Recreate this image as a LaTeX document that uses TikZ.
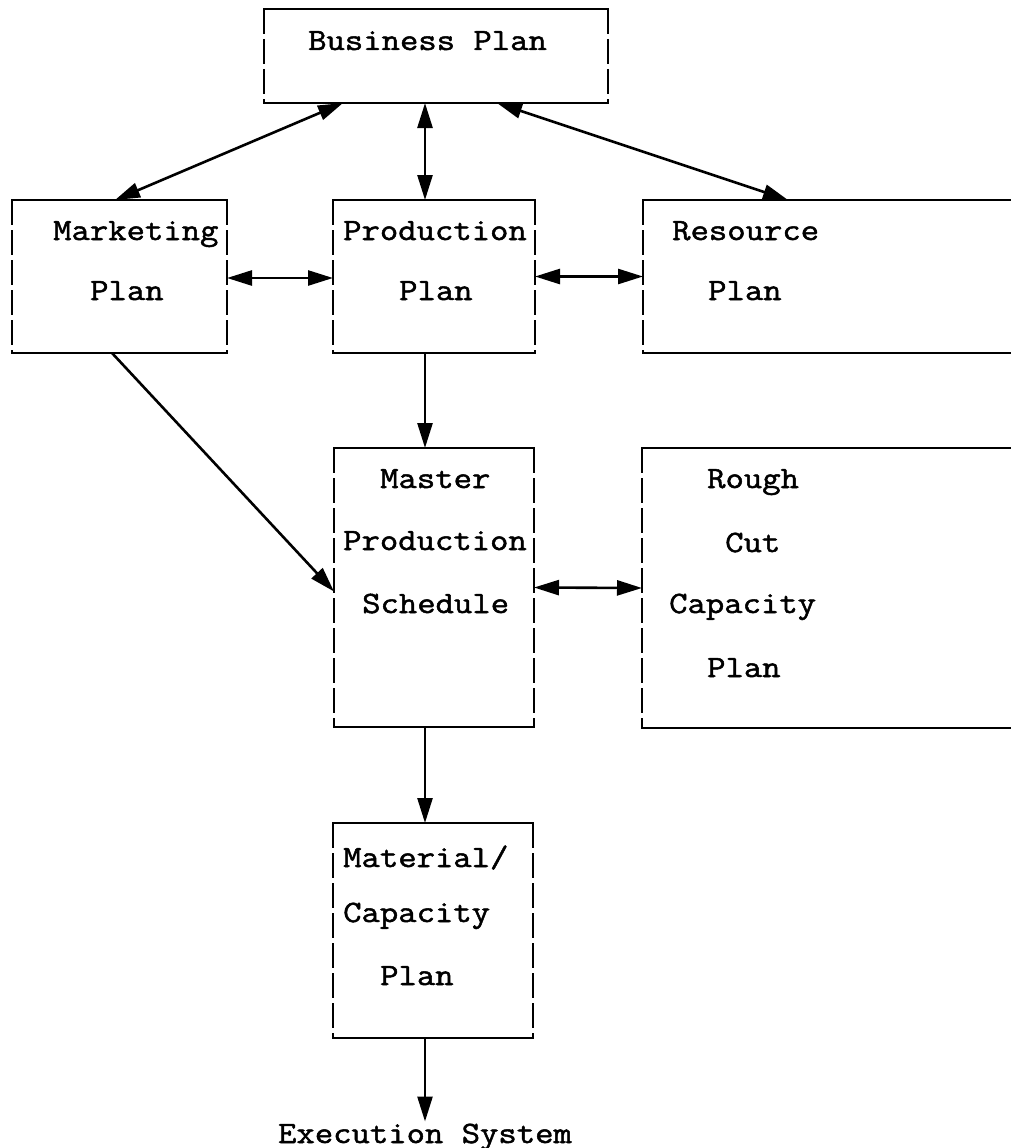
\documentclass[tikz,border=0pt]{standalone}
\usepackage{fontspec}
\newfontfamily\cour[FakeBold=1.6, FakeStretch=1.15]{Latin Modern Mono}
\usetikzlibrary{arrows.meta}
\tikzset{
  boxnode/.style={rectangle, draw=none, inner sep=0pt, outer sep=0pt},
  hedge/.style={line width=2.4pt, line cap=rect},
  vedge/.style={line width=2.2pt, dash pattern=on 25pt off 5pt},
  txtfont/.style={font=\cour\fontsize{31}{36}\selectfont},
  lbl/.style={txtfont, anchor=base west, inner sep=0pt},
  conn/.style={line width=2.6pt, {Triangle[length=25pt,width=15pt]}-{Triangle[length=25pt,width=15pt]}},
  conn1/.style={line width=2.6pt, -{Triangle[length=25pt,width=15pt]}},
}
\begin{document}
\begin{tikzpicture}[x=1pt,y=-1pt]
\useasboundingbox (0,0) rectangle (1011,1148);
\fill[white] (0,0) rectangle (1011,1148);

% boxes
\node[boxnode, minimum width=344pt, minimum height=94pt]  (biz) at (436,56) {};
\node[boxnode, minimum width=215pt, minimum height=153pt] (mkt) at (119.5,276.5) {};
\node[boxnode, minimum width=202pt, minimum height=153pt] (prod) at (434,276.5) {};
\node[boxnode, minimum width=388pt, minimum height=153pt] (res) at (837,276.5) {};
\node[boxnode, minimum width=200pt, minimum height=279pt] (mps) at (434,587.5) {};
\node[boxnode, minimum width=388pt, minimum height=280pt] (rcc) at (836,588) {};
\node[boxnode, minimum width=200pt, minimum height=215pt] (mat) at (433,930.5) {};

% closed boxes
\foreach \b in {biz,mkt,prod,mps,mat}{
  \draw[hedge] (\b.north west) -- (\b.north east);
  \draw[hedge] (\b.south west) -- (\b.south east);
  \draw[vedge] (\b.north west) -- (\b.south west);
  \draw[vedge] (\b.north east) -- (\b.south east);
}
% boxes open on the right (cut by the page edge)
\foreach \b in {res,rcc}{
  \draw[hedge] (\b.north west) -- (\b.north east);
  \draw[hedge] (\b.south west) -- (\b.south east);
  \draw[vedge] (\b.north west) -- (\b.south west);
}

% texts
\node[lbl] (tbiz) at (308,50) {Business Plan};
\node[lbl] (tmkt1) at (53,240) {Marketing};
\node[lbl] (tmkt2) at (90,300) {Plan};
\node[lbl] (tprod1) at (343,240) {Production};
\node[lbl] (tprod2) at (399,300) {Plan};
\node[lbl] (tres1) at (672,240) {Resource};
\node[lbl] (tres2) at (708,300) {Plan};
\node[lbl] (tmps1) at (380,488) {Master};
\node[lbl] (tmps2) at (343,550) {Production};
\node[lbl] (tmps3) at (362,613) {Schedule};
\node[lbl] (trcc1) at (707,488) {Rough};
\node[lbl] (trcc2) at (725,552) {Cut};
\node[lbl] (trcc3) at (669,613) {Capacity};
\node[lbl] (trcc4) at (707,677) {Plan};
\node[lbl] (tmat1) at (343,867) {Material/};
\node[lbl] (tmat2) at (343,922) {Capacity};
\node[lbl] (tmat3) at (380,985) {Plan};
\node[txtfont, anchor=base, inner sep=2pt] (exec) at (425,1143) {Execution System};

% connectors
\draw[conn] ([xshift=79pt]biz.south west) -- ([xshift=103pt]mkt.north west);
\draw[conn] ([xshift=-11pt]biz.south) -- ([xshift=-9pt]prod.north);
\draw[conn] ([xshift=233pt]biz.south west) -- ([xshift=145pt]res.north west);
\draw[conn] ([yshift=-1.5pt]mkt.east) -- ([yshift=-1.5pt]prod.west);
\draw[conn] (prod.east) -- (res.west);
\draw[conn1] ([xshift=-9pt]prod.south) -- ([xshift=-9pt]mps.north);
\draw[conn1] ([xshift=100pt]mkt.south west) -- ([yshift=-4pt]mps.west);
\draw[conn] (mps.east) -- (rcc.west);
\draw[conn1] ([xshift=-9pt]mps.south) -- ([xshift=-8pt]mat.north);
\draw[conn1] ([xshift=-8pt]mat.south) -- (exec.north);
\end{tikzpicture}
\end{document}
